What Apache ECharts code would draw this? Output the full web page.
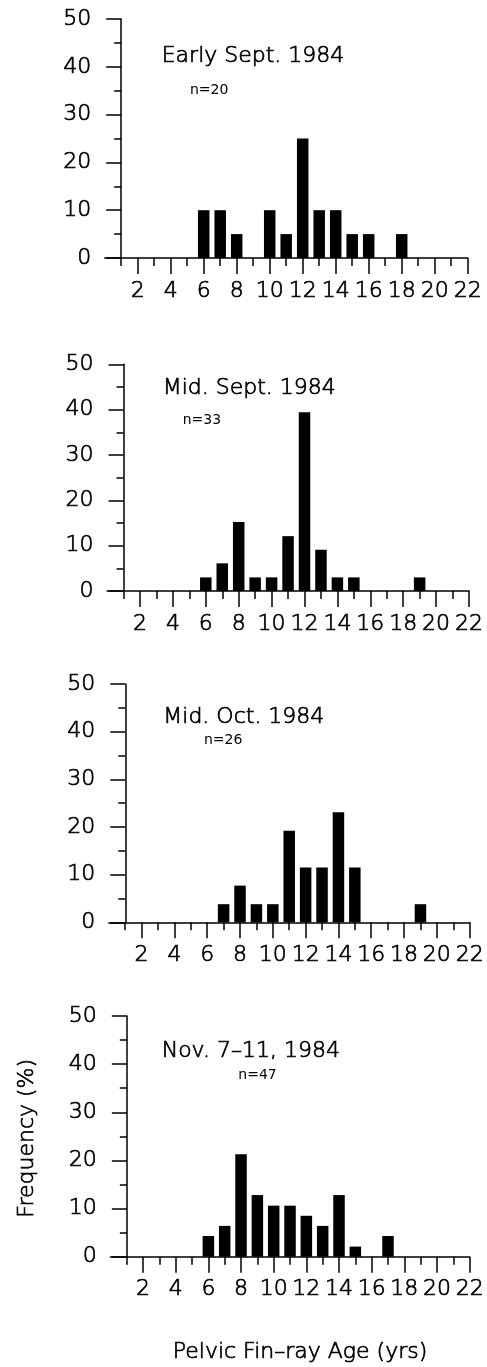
<!DOCTYPE html>
<html>
<head>
<meta charset="utf-8">
<script src="https://cdn.jsdelivr.net/npm/echarts@6/dist/echarts.min.js"></script>
<style>
  html, body { margin: 0; padding: 0; background: #fff; }
  #chart { width: 487px; height: 1367px; }
</style>
</head>
<body>
<div id="chart"></div>
<script>
// Pelvic fin-ray age frequency distributions, four sampling dates in 1984
const panelTitles = ['Early Sept. 1984', 'Mid. Sept. 1984', 'Mid. Oct. 1984', 'Nov. 7\u201311, 1984'];
const sampleSizes = ['n=20', 'n=33', 'n=26', 'n=47'];

const agesEarlySept = [6, 7, 8, 10, 11, 12, 13, 14, 15, 16, 18];
const freqEarlySept = [10, 10, 5, 10, 5, 25, 10, 10, 5, 5, 5];

const agesMidSept = [6, 7, 8, 9, 10, 11, 12, 13, 14, 15, 19];
const freqMidSept = [3.0, 6.1, 15.2, 3.0, 3.0, 12.1, 39.4, 9.1, 3.0, 3.0, 3.0];

const agesMidOct = [7, 8, 9, 10, 11, 12, 13, 14, 15, 19];
const freqMidOct = [3.8, 7.7, 3.8, 3.8, 19.2, 11.5, 11.5, 23.1, 11.5, 3.8];

const agesNov = [6, 7, 8, 9, 10, 11, 12, 13, 14, 15, 17];
const freqNov = [4.3, 6.4, 21.3, 12.8, 10.6, 10.6, 8.5, 6.4, 12.8, 2.1, 4.3];

const xTickLabels = [2, 4, 6, 8, 10, 12, 14, 16, 18, 20, 22];
const yTickLabels = [0, 10, 20, 30, 40, 50];

const xAxisTitle = 'Pelvic Fin\u2013ray Age (yrs)';
const yAxisTitle = 'Frequency (%)';

const ageSeries = [agesEarlySept, agesMidSept, agesMidOct, agesNov];
const freqSeries = [freqEarlySept, freqMidSept, freqMidOct, freqNov];

// Panel geometry: grid box spans age 0..22 horizontally and 0..50 % vertically
const panelBoxes = [
  { left: 104.7, top: 19,    width: 363,   height: 239 },
  { left: 107.1, top: 364.3, width: 361.9, height: 226.7 },
  { left: 108.8, top: 684,   width: 361.9, height: 238.3 },
  { left: 110.4, top: 1016,  width: 361.9, height: 240.7 }
];
const titleSpots = [
  { x: 161.7, y: 56.2,   nx: 190,   ny: 90.5 },
  { x: 162.7, y: 387.8,  nx: 182.7, ny: 420.0 },
  { x: 163.3, y: 717.5,  nx: 204,   ny: 740.8 },
  { x: 161.7, y: 1050.8, nx: 238.3, ny: 1075.8 }
];

const FONT = '"DejaVu Sans", sans-serif';
const INK = '#000';
const X_MAX = 22;
// thin stroke outline gives the light face a pen-plotter line weight
const labelInk = { color: INK, fontFamily: FONT, fontSize: 22, fontWeight: 200, textBorderColor: INK, textBorderWidth: 0.7 };
const textInk = (size) => ({ fill: INK, font: '200 ' + size + 'px ' + FONT, stroke: INK, lineWidth: 0.7 });

const grid = [], xAxis = [], yAxis = [], series = [], graphic = [];

panelBoxes.forEach((box, i) => {
  const unit = box.width / X_MAX;
  grid.push({ left: box.left, top: box.top, width: box.width, height: box.height, containLabel: false });

  xAxis.push({
    type: 'value', gridIndex: i, min: 0, max: X_MAX, interval: 2,
    axisLine: { show: true, onZero: false, lineStyle: { color: INK, width: 1.5 } },
    axisTick: { show: true, length: 16, customValues: xTickLabels, lineStyle: { color: INK, width: 1.5 } },
    minorTick: { show: true, splitNumber: 2, length: 8, lineStyle: { color: INK, width: 1.5 } },
    axisLabel: Object.assign({ customValues: xTickLabels, margin: 22 }, labelInk),
    splitLine: { show: false }, minorSplitLine: { show: false }
  });

  yAxis.push({
    type: 'value', gridIndex: i, min: 0, max: 50, interval: 10,
    // the vertical axis sits at age 1
    offset: -unit,
    axisLine: { show: true, lineStyle: { color: INK, width: 1.5 } },
    axisTick: { show: true, length: 15, lineStyle: { color: INK, width: 1.5 } },
    minorTick: { show: true, splitNumber: 2, length: 7, lineStyle: { color: INK, width: 1.5 } },
    axisLabel: Object.assign({ customValues: yTickLabels, margin: 30 }, labelInk),
    splitLine: { show: false }, minorSplitLine: { show: false }
  });

  series.push({
    type: 'bar', xAxisIndex: i, yAxisIndex: i,
    barWidth: 11.5,
    itemStyle: { color: INK },
    silent: true,
    data: ageSeries[i].map((a, j) => [a, freqSeries[i][j]])
  });

  const spot = titleSpots[i];
  graphic.push({
    type: 'text', x: spot.x, y: spot.y,
    style: Object.assign({ text: panelTitles[i], align: 'left', verticalAlign: 'middle' }, textInk(22))
  });
  graphic.push({
    type: 'text', x: spot.nx, y: spot.ny,
    style: { text: sampleSizes[i], fill: INK, font: '14px ' + FONT, align: 'left', verticalAlign: 'middle' }
  });
});

graphic.push({
  type: 'text', x: 26.8, y: 1138.3, rotation: Math.PI / 2,
  style: Object.assign({ text: yAxisTitle, align: 'center', verticalAlign: 'middle' }, textInk(22))
});
graphic.push({
  type: 'text', x: 300, y: 1351.8,
  style: Object.assign({ text: xAxisTitle, align: 'center', verticalAlign: 'middle' }, textInk(22))
});

const chart = echarts.init(document.getElementById('chart'), null, { renderer: 'canvas' });
chart.setOption({
  backgroundColor: '#fff',
  animation: false,
  grid, xAxis, yAxis, series, graphic
});
</script>
</body>
</html>
